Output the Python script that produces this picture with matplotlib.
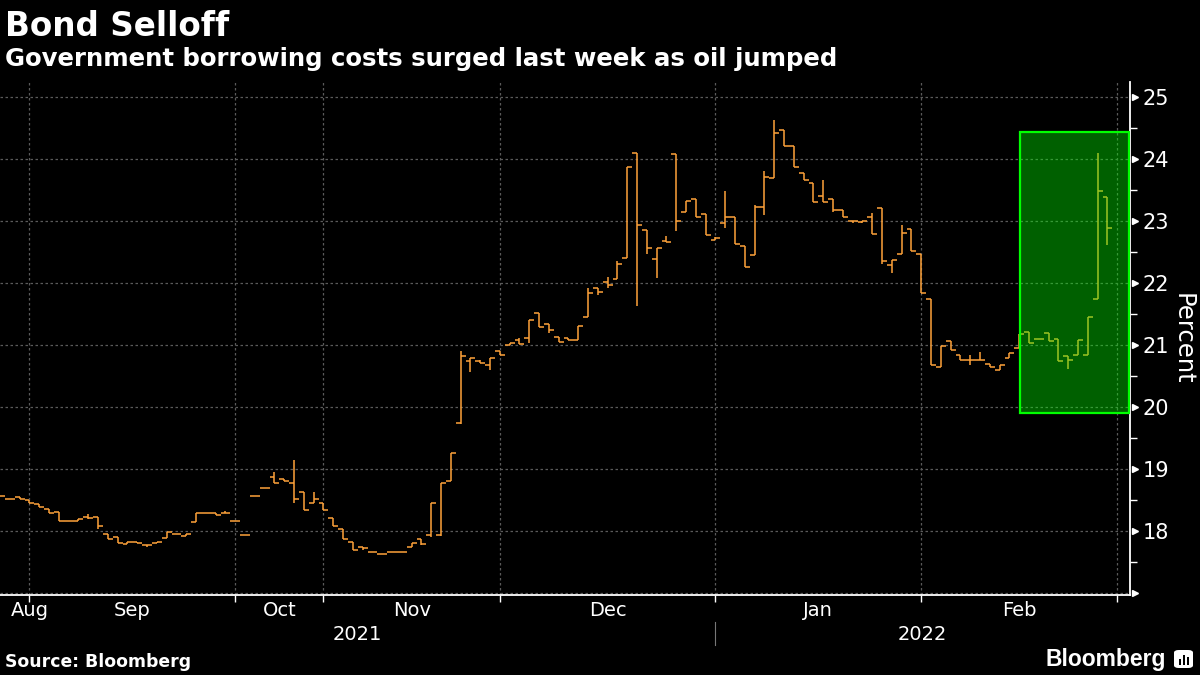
import matplotlib
matplotlib.use('Agg')
import matplotlib.pyplot as plt
from matplotlib.patches import Rectangle, FancyBboxPatch

# daily bars, one per trading day (open, high, low, close), Aug 2021 - Feb 2022
opens = [18.56, 18.52, 18.55, 18.50, 18.43, 18.36, 18.31, 18.17, 18.17, 18.22,
         18.22, 17.95, 17.91, 17.80, 17.83, 17.78, 17.81, 17.89, 17.95, 17.92,
         18.14, 18.29, 18.29, 18.29, 18.16, 17.93, 18.57, 18.70, 18.87, 18.84,
         18.78, 18.63, 18.46, 18.46, 18.21, 18.04, 17.83, 17.74, 17.67, 17.63,
         17.67, 17.67, 17.75, 17.87, 17.94, 17.94, 18.81, 19.75, 20.74, 20.74,
         20.68, 20.90, 21.00, 21.08, 21.11, 21.52, 21.34, 21.13, 21.11, 21.08,
         21.45, 21.92, 22.02, 22.06, 22.41, 24.09, 22.86, 22.39, 22.68, 24.08,
         23.14, 23.36, 23.12, 22.70, 22.97, 23.07, 22.60, 22.45, 23.23, 23.69,
         24.47, 24.21, 23.77, 23.61, 23.40, 23.35, 23.18, 23.00, 22.99, 23.06,
         23.21, 22.29, 22.47, 22.87, 22.47, 21.74, 20.65, 21.06, 20.84, 20.76,
         20.76, 20.69, 20.60, 20.79, 20.95, 21.21, 21.10, 21.19, 21.10, 20.83,
         20.84, 20.84, 21.74, 23.38]
highs = [18.56, 18.52, 18.55, 18.50, 18.43, 18.36, 18.31, 18.17, 18.20, 18.27,
         18.22, 17.95, 17.91, 17.82, 17.83, 17.78, 17.83, 17.98, 17.95, 17.95,
         18.29, 18.29, 18.29, 18.32, 18.16, 17.93, 18.57, 18.70, 18.95, 18.84,
         19.15, 18.63, 18.63, 18.46, 18.21, 18.04, 17.83, 17.74, 17.67, 17.63,
         17.67, 17.67, 17.81, 17.87, 18.45, 18.78, 19.26, 20.91, 20.79, 20.76,
         20.79, 20.90, 21.03, 21.11, 21.41, 21.52, 21.34, 21.13, 21.11, 21.31,
         21.92, 21.92, 22.10, 22.35, 23.87, 24.09, 22.86, 22.57, 22.76, 24.08,
         23.32, 23.36, 23.12, 22.74, 23.49, 23.07, 22.60, 23.25, 23.80, 24.62,
         24.47, 24.21, 23.77, 23.61, 23.66, 23.35, 23.18, 23.00, 23.00, 23.13,
         23.21, 22.37, 22.93, 22.87, 22.47, 21.74, 20.98, 21.06, 20.84, 20.84,
         20.89, 20.69, 20.68, 20.87, 21.18, 21.21, 21.10, 21.19, 21.10, 20.83,
         21.08, 21.45, 24.09, 23.38]
lows = [18.56, 18.52, 18.51, 18.45, 18.39, 18.30, 18.17, 18.17, 18.17, 18.20,
        18.04, 17.88, 17.81, 17.80, 17.81, 17.74, 17.81, 17.89, 17.95, 17.92,
        18.14, 18.29, 18.26, 18.29, 18.16, 17.93, 18.57, 18.70, 18.78, 18.81,
        18.45, 18.34, 18.46, 18.34, 18.08, 17.88, 17.70, 17.69, 17.67, 17.63,
        17.67, 17.67, 17.75, 17.78, 17.91, 17.92, 18.81, 19.72, 20.56, 20.71,
        20.60, 20.84, 21.00, 21.02, 21.03, 21.29, 21.19, 21.05, 21.08, 21.08,
        21.45, 21.80, 21.92, 22.06, 22.41, 21.63, 22.47, 22.08, 22.66, 22.84,
        23.14, 23.07, 22.78, 22.70, 22.89, 22.63, 22.26, 22.45, 23.10, 23.69,
        24.21, 23.87, 23.66, 23.30, 23.30, 23.14, 23.07, 22.97, 22.97, 22.79,
        22.30, 22.16, 22.47, 22.51, 21.84, 20.68, 20.65, 20.92, 20.76, 20.68,
        20.76, 20.65, 20.60, 20.79, 20.95, 21.03, 21.09, 21.06, 20.74, 20.62,
        20.84, 20.84, 21.74, 22.61]
closes = [18.56, 18.52, 18.52, 18.45, 18.39, 18.30, 18.17, 18.17, 18.20, 18.21,
          18.08, 17.88, 17.81, 17.82, 17.81, 17.78, 17.83, 17.98, 17.95, 17.95,
          18.29, 18.29, 18.26, 18.29, 18.16, 17.93, 18.57, 18.70, 18.78, 18.81,
          18.51, 18.34, 18.51, 18.34, 18.08, 17.88, 17.70, 17.72, 17.67, 17.63,
          17.67, 17.67, 17.81, 17.80, 18.45, 18.78, 19.26, 20.82, 20.79, 20.71,
          20.79, 20.84, 21.03, 21.02, 21.41, 21.29, 21.24, 21.05, 21.08, 21.31,
          21.84, 21.85, 21.97, 22.31, 23.87, 22.93, 22.57, 22.57, 22.66, 23.00,
          23.32, 23.07, 22.78, 22.73, 23.07, 22.63, 22.26, 23.22, 23.71, 24.42,
          24.21, 23.87, 23.66, 23.30, 23.30, 23.18, 23.07, 23.00, 23.00, 22.79,
          22.36, 22.37, 22.81, 22.51, 21.84, 20.68, 20.98, 20.92, 20.76, 20.76,
          20.76, 20.65, 20.68, 20.87, 21.18, 21.03, 21.09, 21.06, 20.74, 20.76,
          21.08, 21.45, 23.49, 22.89]

# index of first trading day of each month
month_starts = [3, 24, 33, 51, 73, 94, 114]
month_names = ['Aug', 'Sep', 'Oct', 'Nov', 'Dec', 'Jan', 'Feb']
years = ['2021', '2022']
year_start = 73  # first bar of 2022

# highlighted window (last week)
hl_x0 = 104.1
hl_y0, hl_y1 = 19.90, 24.44

ORANGE = '#ffa33a'
GRID = '#5a5a5a'

fig = plt.figure(figsize=(12, 6.75), dpi=100, facecolor='black')
ax = fig.add_axes([0.0, 0.1185, 0.9417, 0.76])
ax.set_facecolor('black')

x = list(range(len(opens)))
ax.vlines(x, lows, highs, color=ORANGE, lw=1.1, zorder=3)
ax.hlines(opens, [i - 0.5 for i in x], x, color=ORANGE, lw=1.1, zorder=3)
ax.hlines(closes, x, [i + 0.5 for i in x], color=ORANGE, lw=1.1, zorder=3)

xmax = 115.3
ax.set_xlim(0, xmax)
ax.set_ylim(16.97, 25.24)

# green highlight drawn over the bars
ax.add_patch(Rectangle((hl_x0, hl_y0), xmax - hl_x0, hl_y1 - hl_y0,
                       facecolor=(0, 1, 0, 0.38), edgecolor='none', zorder=4))
ax.add_patch(Rectangle((hl_x0, hl_y0), xmax - hl_x0 - 0.1, hl_y1 - hl_y0,
                       facecolor='none', edgecolor='#00ff00', lw=1.6, zorder=5))

# grid
for v in range(17, 26):
    ax.axhline(v, color=GRID, lw=0.9, ls=(0, (2, 2)), zorder=1)
for m in month_starts:
    ax.axvline(m, color=GRID, lw=0.9, ls=(0, (2, 2)), zorder=1)

for s in ['top', 'left']:
    ax.spines[s].set_visible(False)
for s in ['bottom', 'right']:
    ax.spines[s].set_color('white')
    ax.spines[s].set_linewidth(1.3)

# y axis on right
ax.yaxis.tick_right()
ax.set_yticks(range(17, 26))
ax.set_yticklabels([''] + [str(v) for v in range(18, 26)])
ax.set_yticks([v + 0.5 for v in range(17, 25)], minor=True)
ax.tick_params(axis='y', which='major', colors='white', length=0, pad=9,
               labelsize=15)
ax.tick_params(axis='y', which='minor', colors='white', length=5, width=1)
ytr = ax.get_yaxis_transform()
ax.plot([1.004] * 9, range(17, 26), ls='none', marker='>', ms=5,
        color='white', transform=ytr, clip_on=False, zorder=6)
ax.text(1.036, 0.5, 'Percent', transform=ax.transAxes, rotation=270,
        va='center', ha='left', color='white', fontsize=17.5)

# x axis: month boundaries as ticks, month names centred in each month
ax.xaxis.remove_overlapping_locs = False
ax.set_xticks(month_starts)
ax.set_xticklabels([])
ax.tick_params(axis='x', which='major', colors='white', length=5, width=1)
bounds = [0] + month_starts
centers = []
for i in range(len(month_names)):
    c = (bounds[i] + bounds[i + 1]) / 2
    centers.append(max(c, 3.0))
ax.set_xticks(centers, minor=True)
ax.set_xticklabels(month_names, minor=True)
ax.tick_params(axis='x', which='minor', length=0, colors='white',
               labelsize=14, pad=4)

xtr = ax.get_xaxis_transform()
ax.text(year_start / 2, -0.076, years[0], transform=xtr, ha='center',
        va='center', color='white', fontsize=14)
ax.text((year_start + xmax) / 2, -0.076, years[1], transform=xtr,
        ha='center', va='center', color='white', fontsize=14)
ax.plot([year_start, year_start], [-0.053, -0.097], color='#777777', lw=0.8,
        transform=xtr, clip_on=False)

# titles
fig.text(0.004, 1 - 36 / 675, 'Bond Selloff', color='white', fontsize=23.5,
         fontweight='bold', va='baseline', ha='left')
fig.text(0.004, 1 - 66 / 675,
         'Government borrowing costs surged last week as oil jumped',
         color='white', fontsize=17.6, fontweight='bold', va='baseline',
         ha='left')
fig.text(0.004, 1 - 667 / 675, 'Source: Bloomberg', color='white',
         fontsize=12.4, fontweight='bold', va='baseline', ha='left')
fig.text(1166 / 1200, 1 - 666 / 675, 'Bloomberg', color='white',
         fontsize=16.5, fontweight='bold', family='Liberation Sans',
         va='baseline', ha='right')

# little logo glyph
fw, fh = 1200, 675
fig.patches.append(FancyBboxPatch((1174 / fw, 1 - 668 / fh), 19 / fw, 18 / fh,
                                  boxstyle='round,pad=0,rounding_size=0.004',
                                  transform=fig.transFigure, facecolor='white',
                                  edgecolor='none'))
for bx, bh in [(1179, 6), (1183, 10), (1187, 8)]:
    fig.patches.append(Rectangle((bx / fw, 1 - 665 / fh), 2 / fw, bh / fh,
                                 transform=fig.transFigure, facecolor='black',
                                 edgecolor='none'))

fig.savefig('out.png', dpi=100, facecolor='black')
